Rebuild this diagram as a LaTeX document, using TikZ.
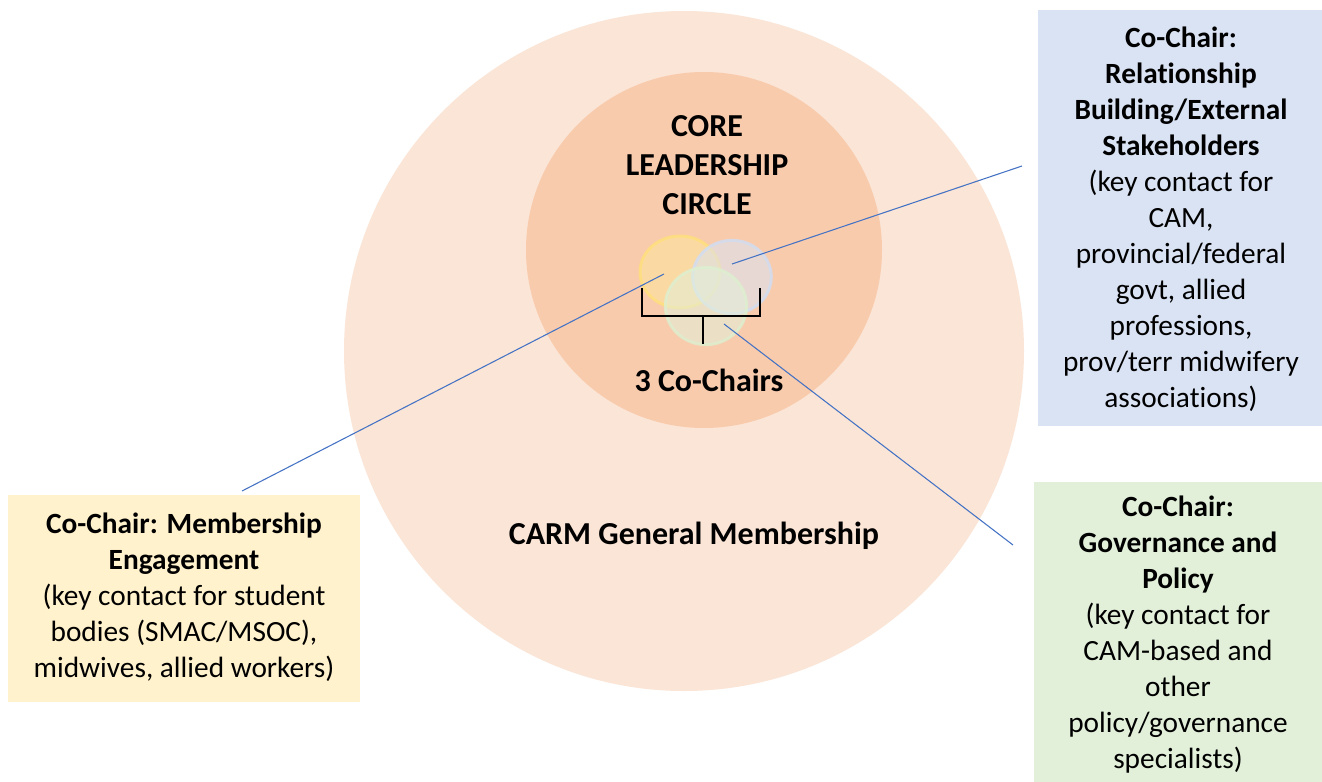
\documentclass[tikz,border=0pt]{standalone}
\usepackage{fontspec}
\setmainfont{Carlito}[Ligatures=NoCommon]
\usetikzlibrary{shapes.geometric}
\definecolor{outerc}{HTML}{FBE5D6}
\definecolor{innerc}{HTML}{F8CBAD}
\definecolor{yelbox}{HTML}{FFF2CC}
\definecolor{blubox}{HTML}{DAE3F3}
\definecolor{grnbox}{HTML}{E2F0D9}
\definecolor{yelc}{HTML}{FFE699}
\definecolor{yeld}{HTML}{FFE07A}
\definecolor{bluc}{HTML}{DAE3F3}
\definecolor{blud}{HTML}{D0DDF3}
\definecolor{grnc}{HTML}{E2F0D9}
\definecolor{grnd}{HTML}{DDEFCF}
\definecolor{linec}{HTML}{4472C4}
\begin{document}
\begin{tikzpicture}[x=0.75pt,y=-0.75pt,
  txt/.style={align=center,font=\fontsize{22}{27}\selectfont,inner sep=0pt},
  bigtxt/.style={align=center,font=\fontsize{24}{29}\selectfont\bfseries,inner sep=0pt},
  boxbg/.style={draw=none,inner sep=0pt,anchor=north west},
  small/.style={ellipse,inner sep=0pt,line width=2.2pt,fill opacity=0.55,draw opacity=0.8},
  conn/.style={draw=linec,line width=0.8pt},
  brk/.style={draw=black,line width=1.1pt}]
\useasboundingbox (0,0) rectangle (1322,782);
\fill[white] (0,0) rectangle (1322,782);
% circles
\node (outer) [circle,fill=outerc,minimum size=510pt,inner sep=0pt] at (684,351) {};
\node (inner) [circle,fill=innerc,minimum size=267pt,inner sep=0pt] at (704,250) {};
\node (yc) [small,fill=yelc,draw=yeld,minimum width=60pt,minimum height=54pt] at (680,272) {};
\node (bc) [small,fill=bluc,draw=blud,minimum width=59pt,minimum height=55pt] at (732,277) {};
\node (gc) [small,fill=grnc,draw=grnd,minimum width=61pt,minimum height=58pt] at (706,306) {};
% bracket
\coordinate (bl) at (642,288);
\coordinate (br) at (760,288);
\coordinate (bm) at (703,316);
\coordinate (bs) at (703,344);
\draw[brk] (bl) |- (bm) -| (br);
\draw[brk] (bm) -- (bs);
% boxes
\node (yb) [boxbg,fill=yelbox,minimum width=264pt,minimum height=155.25pt] at (8,495) {};
\node (bb) [boxbg,fill=blubox,minimum width=213pt,minimum height=312pt] at (1038,10) {};
\node (gb) [boxbg,fill=grnbox,minimum width=216pt,minimum height=225pt] at (1034,482) {};
% texts
\node (core) [bigtxt] at (707,165) {CORE\\LEADERSHIP\\CIRCLE};
\node (three) [bigtxt] at (709,380) {3 Co-Chairs};
\node (carm) [bigtxt] at (694,536) {CARM General Membership};
\node (yt) [txt] at (184,597) {\textbf{Co-Chair: Membership}\\\textbf{Engagement}\\(key contact for student\\bodies (SMAC/MSOC),\\midwives, allied workers)};
\node (bt) [txt] at (1181,219) {\textbf{Co-Chair:}\\\textbf{Relationship}\\\textbf{Building/External}\\\textbf{Stakeholders}\\(key contact for\\CAM,\\provincial/federal\\govt, allied\\professions,\\prov/terr midwifery\\associations)};
\node (gt) [txt] at (1178,635) {\textbf{Co-Chair:}\\\textbf{Governance and}\\\textbf{Policy}\\(key contact for\\CAM-based and\\other\\policy/governance\\specialists)};
% connectors
\coordinate (ya) at (664,274);
\coordinate (yz) at (242,491);
\coordinate (ba) at (732,264);
\coordinate (bz) at (1022,166);
\coordinate (ga) at (724,324);
\coordinate (gz) at (1013,545);
\draw[conn] (ya) -- (yz);
\draw[conn] (ba) -- (bz);
\draw[conn] (ga) -- (gz);
\end{tikzpicture}
\end{document}
